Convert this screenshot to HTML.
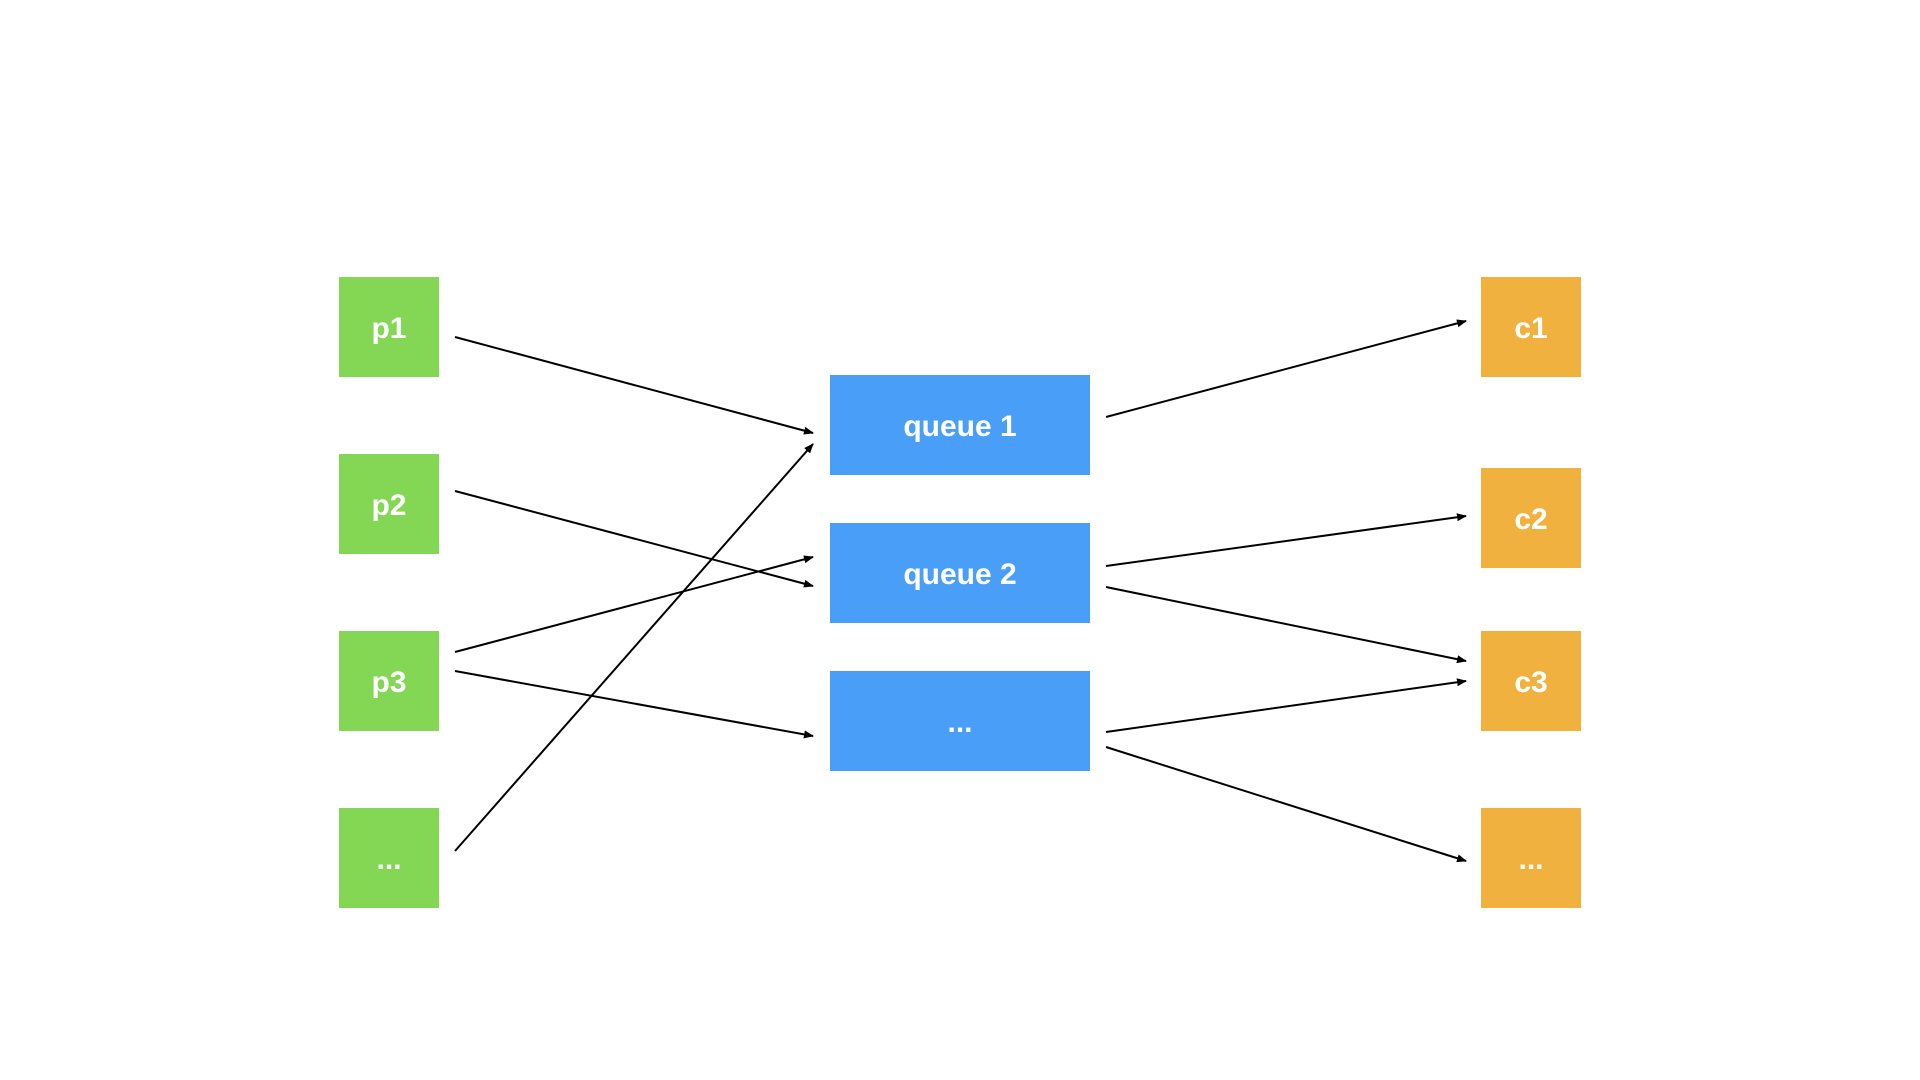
<!DOCTYPE html>
<html><head><meta charset="utf-8"><style>
html,body{margin:0;padding:0;background:#fff;}
.wrap{position:relative;width:1920px;height:1080px;overflow:hidden;font-family:"Liberation Sans",Arial,sans-serif;}
.b{position:absolute;display:flex;align-items:center;justify-content:center;color:#fff;font-weight:bold;font-size:30px;box-sizing:border-box;padding-top:4px;}
.g{background:#84D655;width:100px;height:100px;left:339px;}
.o{background:#F1B13E;width:100px;height:100px;left:1481px;}
.q{background:#499FF7;width:260px;height:100px;left:830px;}
svg{position:absolute;left:0;top:0;}
</style></head><body><div class="wrap">
<div class="b g" style="top:277px">p1</div>
<div class="b g" style="top:454px">p2</div>
<div class="b g" style="top:631px">p3</div>
<div class="b g" style="top:808px">...</div>
<div class="b q" style="top:375px">queue 1</div>
<div class="b q" style="top:523px">queue 2</div>
<div class="b q" style="top:671px">...</div>
<div class="b o" style="top:277px">c1</div>
<div class="b o" style="top:468px">c2</div>
<div class="b o" style="top:631px">c3</div>
<div class="b o" style="top:808px">...</div>
<svg width="1920" height="1080">
<defs><marker id="a" markerWidth="10" markerHeight="8" refX="9" refY="4" orient="auto" markerUnits="userSpaceOnUse"><path d="M0,0 L10,4 L0,8 z" fill="#000"/></marker></defs>
<g stroke="#000" stroke-width="2" marker-end="url(#a)">
<line x1="455" y1="337" x2="813" y2="433"/>
<line x1="455" y1="491" x2="813" y2="586"/>
<line x1="455" y1="652" x2="813" y2="557"/>
<line x1="455" y1="671" x2="813" y2="736"/>
<line x1="455" y1="851" x2="813" y2="444"/>
<line x1="1106" y1="417" x2="1466" y2="321"/>
<line x1="1106" y1="566" x2="1466" y2="516"/>
<line x1="1106" y1="587" x2="1466" y2="661"/>
<line x1="1106" y1="732" x2="1466" y2="681"/>
<line x1="1106" y1="747" x2="1466" y2="861"/>
</g></svg>
</div></body></html>
